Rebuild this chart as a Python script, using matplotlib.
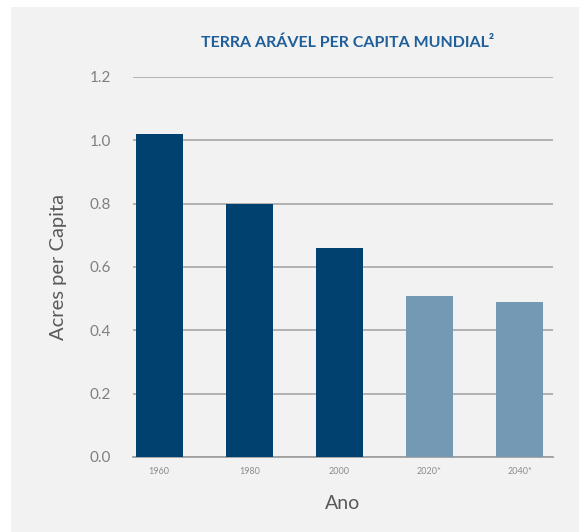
import matplotlib.pyplot as plt
from matplotlib.patches import Rectangle

years = ['1960', '1980', '2000', '2020*', '2040*']
acres = [1.02, 0.80, 0.66, 0.51, 0.49]
projected = [False, False, False, True, True]

dark_blue = '#00416f'
light_blue = '#7399b5'


def main():
    plt.rcParams['font.family'] = ['Lato', 'DejaVu Sans']
    fig = plt.figure(figsize=(5.79, 5.32), dpi=100)
    fig.patch.set_facecolor('white')
    # light gray panel behind the chart
    fig.patches.append(Rectangle((11 / 579, 0), 1, 1 - 7 / 532, transform=fig.transFigure,
                                 facecolor='#f2f2f2', edgecolor='none', zorder=-10))

    ax = fig.add_axes([133 / 579, (532 - 457) / 532, 420 / 579, 380 / 532])
    ax.set_facecolor('none')

    colors = [light_blue if p else dark_blue for p in projected]
    ax.bar(range(len(years)), acres, width=0.52, color=colors, zorder=3)

    ax.set_xlim(-0.29, 4.37)
    ax.set_ylim(0, 1.2)
    ax.set_yticks([0.0, 0.2, 0.4, 0.6, 0.8, 1.0, 1.2])
    ax.set_yticklabels([f'{v:.1f}' for v in ax.get_yticks()], color='#7f7f7f', fontsize=11)
    ax.set_xticks(range(len(years)))
    ax.set_xticklabels(years, color='#8c8c8c', fontsize=6.5)
    ax.tick_params(axis='y', length=0, pad=16)
    ax.tick_params(axis='x', length=0, pad=7)

    ax.grid(axis='y', color='#a0a0a0', linewidth=1.1, zorder=0)
    for side in ['top', 'right', 'left']:
        ax.spines[side].set_visible(False)
    ax.spines['bottom'].set_color('#a0a0a0')
    ax.spines['bottom'].set_linewidth(1.3)

    ax.set_ylabel('Acres per Capita', fontsize=14.5, color='#595959', labelpad=16)
    ax.set_xlabel('Ano', fontsize=14, color='#595959', labelpad=14)

    fig.text(348 / 579, 1 - 43 / 532, 'TERRA ARÁVEL PER CAPITA MUNDIAL²', ha='center', va='center',
             fontsize=11.5, fontweight='bold', color='#1f5f99')

    fig.savefig('out.png', dpi=100)


if __name__ == "__main__":
    main()
